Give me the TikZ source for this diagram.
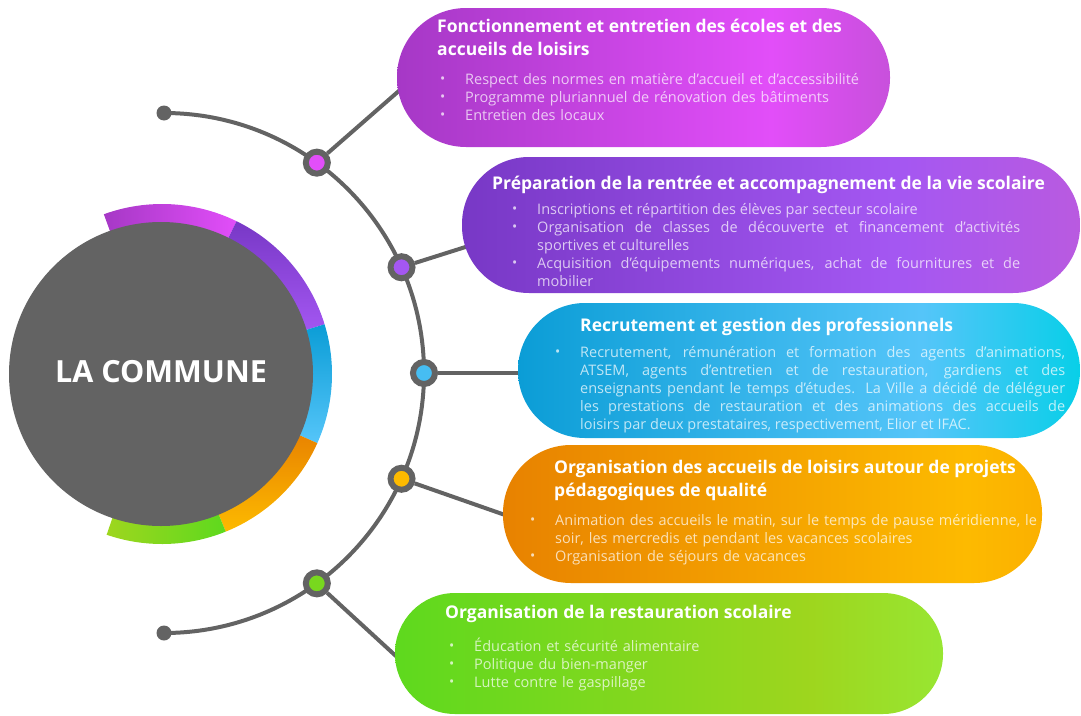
\documentclass[tikz,border=0pt]{standalone}
\usepackage{fontspec}
\setmainfont{Open Sans}
\usepackage{graphicx}
\usetikzlibrary{calc,backgrounds}
\definecolor{hubgray}{HTML}{636363}
\definecolor{magA}{HTML}{A638C6}\definecolor{magB}{HTML}{E24EF9}\definecolor{magC}{HTML}{C850DC}
\definecolor{vioA}{HTML}{7838C6}\definecolor{vioB}{HTML}{A457F2}\definecolor{vioC}{HTML}{B95AE0}
\definecolor{bluA}{HTML}{0B9DD6}\definecolor{bluB}{HTML}{55C5F9}\definecolor{bluC}{HTML}{08CFE8}
\definecolor{oraA}{HTML}{E88200}\definecolor{oraB}{HTML}{FDBA00}\definecolor{oraC}{HTML}{FBB000}
\definecolor{greA}{HTML}{5ED91E}\definecolor{greB}{HTML}{9ED61E}\definecolor{greC}{HTML}{98E632}
\pgfdeclarehorizontalshading{pillmag}{100bp}{color(0bp)=(magA); color(25bp)=(magA); color(63bp)=(magB); color(75bp)=(magC); color(100bp)=(magC)}
\pgfdeclarehorizontalshading{pillvio}{100bp}{color(0bp)=(vioA); color(25bp)=(vioA); color(60bp)=(vioB); color(75bp)=(vioC); color(100bp)=(vioC)}
\pgfdeclarehorizontalshading{pillblu}{100bp}{color(0bp)=(bluA); color(25bp)=(bluA); color(61bp)=(bluB); color(75bp)=(bluC); color(100bp)=(bluC)}
\pgfdeclarehorizontalshading{pillora}{100bp}{color(0bp)=(oraA); color(25bp)=(oraA); color(68bp)=(oraB); color(75bp)=(oraC); color(100bp)=(oraC)}
\pgfdeclarehorizontalshading{pillgre}{100bp}{color(0bp)=(greA); color(25bp)=(greA); color(63bp)=(greB); color(75bp)=(greC); color(100bp)=(greC)}
\def\drawspoke{\draw[color=hubgray, line width=4pt]}
\def\knot{\node[circle,draw=hubgray,line width=6pt,minimum size=22pt]}
\def\enddot{\node[circle,fill=hubgray,minimum size=15pt]}
\newcommand\puce{\noindent\hangindent=25pt\hangafter=1\makebox[25pt][l]{\raisebox{0.5pt}{\scalebox{0.95}{•}}}}
\newcommand\ttlfont{\fontsize{17.5}{22.5}\selectfont\bfseries}
\newcommand\txtfont{\fontsize{14.5}{18}\selectfont}
\tikzset{
  pill/.style={rectangle,shade,inner sep=0pt},
  ttl/.style={anchor=base west,inner sep=0pt,text=white,font=\ttlfont,align=left},
  txt/.style={anchor=base west,inner sep=0pt,text=white,text opacity=0.72,font=\txtfont},
}

\begin{document}
\begin{tikzpicture}[x=1pt,y=1pt,inner sep=0pt]
\useasboundingbox (0,0) rectangle (1081,-715);
% coloured ring behind the hub
\coordinate (ring) at (162,-374);
\shade[left color=magA,right color=magB] ($(ring)+(110:170pt)$) arc[start angle=110,end angle=64,radius=170pt] -- ($(ring)+(64:140pt)$) arc[start angle=64,end angle=110,radius=140pt] -- cycle;
\shade[top color=vioA,bottom color=vioB] ($(ring)+(64:170pt)$) arc[start angle=64,end angle=17,radius=170pt] -- ($(ring)+(17:140pt)$) arc[start angle=17,end angle=64,radius=140pt] -- cycle;
\shade[top color=bluA,bottom color=bluB] ($(ring)+(17:170pt)$) arc[start angle=17,end angle=-24,radius=170pt] -- ($(ring)+(-24:140pt)$) arc[start angle=-24,end angle=17,radius=140pt] -- cycle;
\shade[top color=oraA,bottom color=oraB] ($(ring)+(-24:170pt)$) arc[start angle=-24,end angle=-68,radius=170pt] -- ($(ring)+(-68:140pt)$) arc[start angle=-68,end angle=-24,radius=140pt] -- cycle;
\shade[left color=greB,right color=greA] ($(ring)+(-68:170pt)$) arc[start angle=-68,end angle=-109,radius=170pt] -- ($(ring)+(-109:140pt)$) arc[start angle=-109,end angle=-68,radius=140pt] -- cycle;
\node[circle,fill=hubgray,minimum size=304pt,text=white,font=\fontsize{30.5}{33}\selectfont\bfseries] (commune) at (161,-374) {\raisebox{6pt}{LA COMMUNE}};
% spine
\coordinate (hub) at (164,-373);
\enddot (top) at (164,-113) {};
\enddot (bot) at (164,-633) {};
\draw[color=hubgray, line width=4pt] (top.center) arc[start angle=90,end angle=-90,radius=260pt];
\knot[fill=magB] (n1) at ($(hub)+(54:260pt)$) {};
\knot[fill=vioB] (n2) at ($(hub)+(24:260pt)$) {};
\knot[fill=bluB!80!bluA] (n3) at ($(hub)+(0:260pt)$) {};
\knot[fill=oraB] (n4) at ($(hub)+(-24:260pt)$) {};
\knot[fill=greA!60!greB] (n5) at ($(hub)+(-54:260pt)$) {};
% pills
\node[pill,shading=pillmag,minimum width=493pt,minimum height=139pt,rounded corners=69pt] (pill1) at (643.5,-77.5) {};
\node[pill,shading=pillvio,minimum width=618pt,minimum height=136pt,rounded corners=67pt] (pill2) at (771,-225) {};
\node[pill,shading=pillblu,minimum width=562pt,minimum height=135pt,rounded corners=67pt] (pill3) at (799,-370.5) {};
\node[pill,shading=pillora,minimum width=539pt,minimum height=138pt,rounded corners=68pt] (pill4) at (772.5,-514) {};
\node[pill,shading=pillgre,minimum width=548pt,minimum height=121pt,rounded corners=60pt] (pill5) at (669,-653.5) {};
\begin{scope}[on background layer]
\drawspoke (n1) -- ([shift={(6pt,-10pt)}]pill1.west);
\drawspoke (n2) -- ([shift={(10pt,-20pt)}]pill2.west);
\drawspoke (n3) -- (n3 -| pill3.west) -- ++(8,0);
\drawspoke (n4) -- ([shift={(8pt,-3pt)}]pill4.west);
\drawspoke (n5) -- ([shift={(6pt,-7pt)}]pill5.west);
\end{scope}
% texts
\node[ttl] (t1) at (437,-55) {Fonctionnement et entretien des écoles et des\\accueils de loisirs};
\node[txt,text width=440pt,align=left] (b1) at (440,-84) {\puce Respect des normes en matière d’accueil et d’accessibilité\par
  \puce Programme pluriannuel de rénovation des bâtiments\par
  \puce Entretien des locaux\par};
\node[ttl] (t2) at (492,-189) {Préparation de la rentrée et accompagnement de la vie scolaire};
\node[txt,text width=508pt,align=justify] (b2) at (512,-214) {\puce Inscriptions et répartition des élèves par secteur scolaire\par
  \puce Organisation de classes de découverte et financement d’activités\linebreak sportives et culturelles\par
  \puce Acquisition d’équipements numériques, achat de fournitures et de\linebreak mobilier\par};
\node[ttl] (t3) at (580,-331) {Recrutement et gestion des professionnels};
\node[txt,text width=510pt,align=justify] (b3) at (555,-357) {\puce Recrutement, rémunération et formation des agents d'animations,\linebreak ATSEM, agents d’entretien et de restauration, gardiens et des\linebreak enseignants pendant le temps d'études. La Ville a décidé de déléguer\linebreak les prestations de restauration et des animations des accueils de\linebreak loisirs par deux prestataires, respectivement, Elior et IFAC.\par};
\node[ttl] (t4) at (554,-496) {Organisation des accueils de loisirs autour de projets\\pédagogiques de qualité};
\node[txt,text width=520pt,align=left] (b4) at (530,-525) {\puce Animation des accueils le matin, sur le temps de pause méridienne, le\linebreak soir, les mercredis et pendant les vacances scolaires\par
  \puce Organisation de séjours de vacances\par};
\node[ttl] (t5) at (445,-618) {Organisation de la restauration scolaire};
\node[txt,text width=300pt,align=left] (b5) at (449,-651) {\puce Éducation et sécurité alimentaire\par
  \puce Politique du bien-manger\par
  \puce Lutte contre le gaspillage\par};
\end{tikzpicture}
\end{document}
